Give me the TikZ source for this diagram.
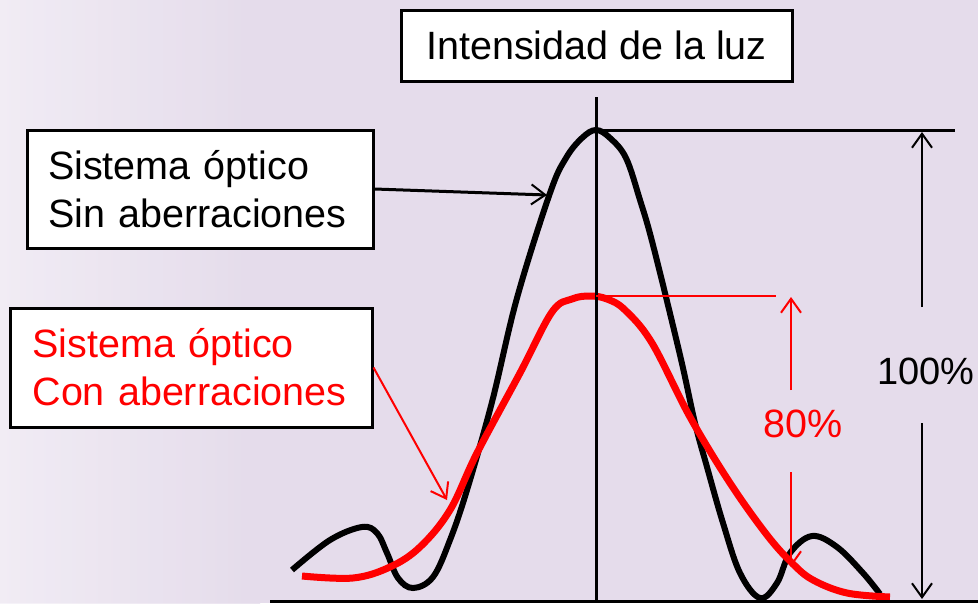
\documentclass[tikz,border=0pt]{standalone}
\usepackage{fontspec}
\setmainfont{Liberation Sans}
\usetikzlibrary{arrows.meta}
\definecolor{lila}{RGB}{229,220,235}
\definecolor{lilaclaro}{RGB}{244,240,247}
\definecolor{rojo}{RGB}{255,0,0}
\tikzset{
	caja/.style={draw=black, line width=3pt, fill=white, inner ysep=0pt, font=\fontsize{39.5}{48}\selectfont},
	curva/.style={line width=6pt, smooth, tension=0.6},
	flecha/.style={-{Straight Barb[length=14pt,width=20pt,line width=2pt]}, line width=2pt},
}

\begin{document}
\begin{tikzpicture}[x=1pt, y=-1pt]
		%%%%% FONDO %%%%%
		\useasboundingbox (0,0) rectangle (978,603);
		\fill[lila] (0,0) rectangle (978,603);
		\shade[left color=lilaclaro, right color=lila, opacity=0.8] (0,0) rectangle (260,603);
		
		%%%%% CAJAS %%%%%
		\node[caja, minimum width=391pt, minimum height=71pt] (titulo) at (596.5,45.5) {Intensidad de la luz};
		\node[caja, text width=304pt, inner xsep=21pt, minimum height=118pt, align=left] (sin) at (200,189) {Sistema óptico\\Sin aberraciones};
		\node[caja, text width=317pt, inner xsep=22.5pt, minimum height=119pt, align=left, text=rojo] (con) at (191,367.5) {Sistema óptico\\Con aberraciones};
		
		%%%%% PUNTOS %%%%%
		\coordinate (pico) at (596,130);
		\coordinate (picorojo) at (596,296);
		\coordinate (fin100) at (955,130);
		\coordinate (fin80) at (776,296);
		\coordinate (flechanegra) at (547,195);
		\coordinate (flecharoja) at (447,500);
		
		%%%%% CURVAS %%%%%
		\draw[curva] plot coordinates {(292,570) (330,540) (362,527) (377,533) (387,553) (398,578) (413,588) (433,577) (450,540) (467,490) (492,402) (517,298) (550,193) (566,158) (582,138) (596,130) (610,138) (626,158) (640,200) (653,245) (680,355) (695,423) (707,467) (723,523) (740,573) (760,598) (777,583) (790,553) (812,536) (837,547) (863,573) (880,594)};
		\draw[curva, rojo, line width=7pt] plot coordinates {(302,576) (353,578) (390,567) (420,547) (450,510) (477,453) (520,373) (552,312) (572,299) (590,296) (607,299) (625,310) (652,343) (690,417) (730,483) (767,535) (792,563) (813,580) (847,593) (890,597)};
		
		%%%%% EJES %%%%%
		\draw[line width=3pt] (596,97) -- (596,603);
		\draw[line width=3pt] (270,601) -- (978,601);
		\draw[line width=3pt] (pico) -- (fin100);
		\draw[line width=2.5pt, rojo] (picorojo) -- (fin80);
		
		%%%%% COTAS %%%%%
		\node[font=\fontsize{38}{46}\selectfont] (cien) at (926,371) {100\%};
		\node[font=\fontsize{39.5}{48}\selectfont, text=rojo] (ochenta) at (803.5,424) {80\%};
		\coordinate (cienarriba) at (922,307);
		\coordinate (cienabajo) at (922,423);
		\coordinate (ochentaarriba) at (791,390);
		\coordinate (ochentaabajo) at (791,472);
		\draw[flecha] (cienarriba) -- (922,132);
		\draw[flecha] (cienabajo) -- (922,599);
		\draw[flecha, rojo] (ochentaarriba) -- (791,297);
		\draw[flecha, rojo] (ochentaabajo) -- (791,567);
		
		%%%%% FLECHAS %%%%%
		\draw[flecha, line width=3pt] (sin.east) -- (flechanegra);
		\draw[flecha, rojo] (con.east) -- (flecharoja);
		
		%%%%% FIN %%%%%
	\end{tikzpicture}
\end{document}
